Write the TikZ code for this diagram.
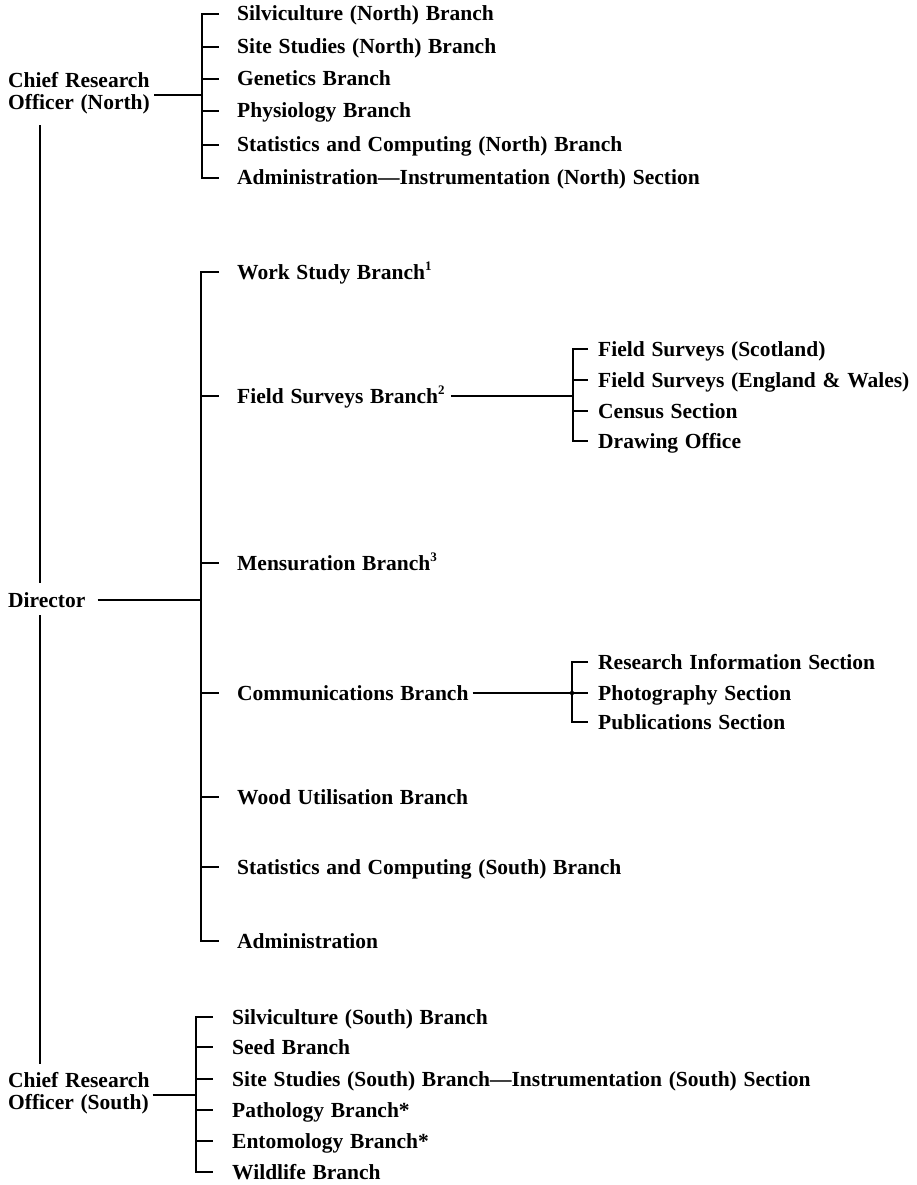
\documentclass[tikz,border=0pt]{standalone}
\usepackage{fontspec}
\setmainfont[WordSpace=1.25]{Liberation Serif}
\newcommand{\sups}[1]{\raisebox{0.85ex}{\fontsize{13}{13}\selectfont #1}}
\begin{document}
\begin{tikzpicture}[x=1pt,y=-1pt,
  lbl/.style={anchor=west, inner sep=0pt, text height=16pt, text depth=2pt,
    font=\fontsize{21.5}{20}\selectfont\bfseries},
  chief/.style={anchor=west, inner sep=0pt, align=left,
    font=\fontsize{21.5}{22}\selectfont\bfseries},
  ln/.style={line width=1.8pt, line cap=butt, line join=miter}]
\useasboundingbox (0,0) rectangle (916,1185);
\fill[white] (0,0) rectangle (916,1185);

% bracket x positions
\coordinate (bxN) at (202,0);
\coordinate (bxM) at (201,0);
\coordinate (bxF) at (573,0);
\coordinate (bxC) at (572,0);
\coordinate (bxS) at (196,0);
\coordinate (vx) at (40,0);

% ---- North ----
\node[chief] (cn) at (8,93) {Chief Research\\Officer (North)};
\node[lbl] (n1) at (237,14) {Silviculture (North) Branch};
\node[lbl] (n2) at (237,47) {Site Studies (North) Branch};
\node[lbl] (n3) at (237,79) {Genetics Branch};
\node[lbl] (n4) at (237,111) {Physiology Branch};
\node[lbl] (n5) at (237,145) {Statistics and Computing (North) Branch};
\node[lbl] (n6) at (237,178) {Administration---Instrumentation (North) Section};
\draw[ln] ([xshift=-18pt]n1.west) -- (bxN |- n1.west) -- (bxN |- n6.west) -- ([xshift=-18pt]n6.west);
\foreach \n in {n2,n3,n4,n5} \draw[ln] (bxN |- \n.west) -- ([xshift=-18pt]\n.west);
\draw[ln] ([xshift=4pt,yshift=-2pt]cn.east) -- ([yshift=-2pt]bxN |- cn.east);

% ---- Director ----
\node[lbl] (dir) at (8,600) {Director};
\draw[ln] ([xshift=12pt]dir.east) -- (bxM |- dir.east);
\draw[ln] ([yshift=-11pt]vx |- cn.south) -- ([yshift=8pt]vx |- dir.north);

\node[lbl] (m1) at (237,272) {Work Study Branch\sups{1}};
\node[lbl] (m2) at (237,396) {Field Surveys Branch\sups{2}};
\node[lbl] (m3) at (237,563) {Mensuration Branch\sups{3}};
\node[lbl] (m4) at (237,693) {Communications Branch};
\node[lbl] (m5) at (237,797) {Wood Utilisation Branch};
\node[lbl] (m6) at (237,867) {Statistics and Computing (South) Branch};
\node[lbl] (m7) at (237,941) {Administration};
\draw[ln] ([xshift=-18pt]m1.west) -- (bxM |- m1.west) -- (bxM |- m7.west) -- ([xshift=-18pt]m7.west);
\foreach \n in {m2,m3,m4,m5,m6} \draw[ln] (bxM |- \n.west) -- ([xshift=-18pt]\n.west);

% ---- Field Surveys sub ----
\node[lbl] (f1) at (598,349) {Field Surveys (Scotland)};
\node[lbl] (f2) at (598,380) {Field Surveys (England \& Wales)};
\node[lbl] (f3) at (598,411) {Census Section};
\node[lbl] (f4) at (598,441) {Drawing Office};
\draw[ln] ([xshift=-10pt]f1.west) -- (bxF |- f1.west) -- (bxF |- f4.west) -- ([xshift=-10pt]f4.west);
\foreach \n in {f2,f3} \draw[ln] (bxF |- \n.west) -- ([xshift=-10pt]\n.west);
\draw[ln] ([xshift=6pt]m2.east) -- (bxF |- m2.east);

% ---- Communications sub ----
\node[lbl] (c1) at (598,662) {Research Information Section};
\node[lbl] (c2) at (598,693) {Photography Section};
\node[lbl] (c3) at (598,722) {Publications Section};
\draw[ln] ([xshift=-10pt]c1.west) -- (bxC |- c1.west) -- (bxC |- c3.west) -- ([xshift=-10pt]c3.west);
\draw[ln] (bxC |- c2.west) -- ([xshift=-10pt]c2.west);
\draw[ln] ([xshift=4pt]m4.east) -- (bxC |- m4.east);
\fill (bxC |- m4.east) circle (2.2pt);

% ---- South ----
\node[chief] (cs) at (8,1093) {Chief Research\\Officer (South)};
\node[lbl] (s1) at (232,1017) {Silviculture (South) Branch};
\node[lbl] (s2) at (232,1047) {Seed Branch};
\node[lbl] (s3) at (232,1079) {Site Studies (South) Branch---Instrumentation (South) Section};
\node[lbl] (s4) at (232,1110) {Pathology Branch*};
\node[lbl] (s5) at (232,1141) {Entomology Branch*};
\node[lbl] (s6) at (232,1172) {Wildlife Branch};
\draw[ln] ([xshift=-19pt]s1.west) -- (bxS |- s1.west) -- (bxS |- s6.west) -- ([xshift=-19pt]s6.west);
\foreach \n in {s2,s3,s4,s5} \draw[ln] (bxS |- \n.west) -- ([xshift=-19pt]\n.west);
\draw[ln] ([xshift=3pt,yshift=-2pt]cs.east) -- ([yshift=-2pt]bxS |- cs.east);
\draw[ln] ([yshift=-6pt]vx |- dir.south) -- ([yshift=8pt]vx |- cs.north);
\end{tikzpicture}
\end{document}
